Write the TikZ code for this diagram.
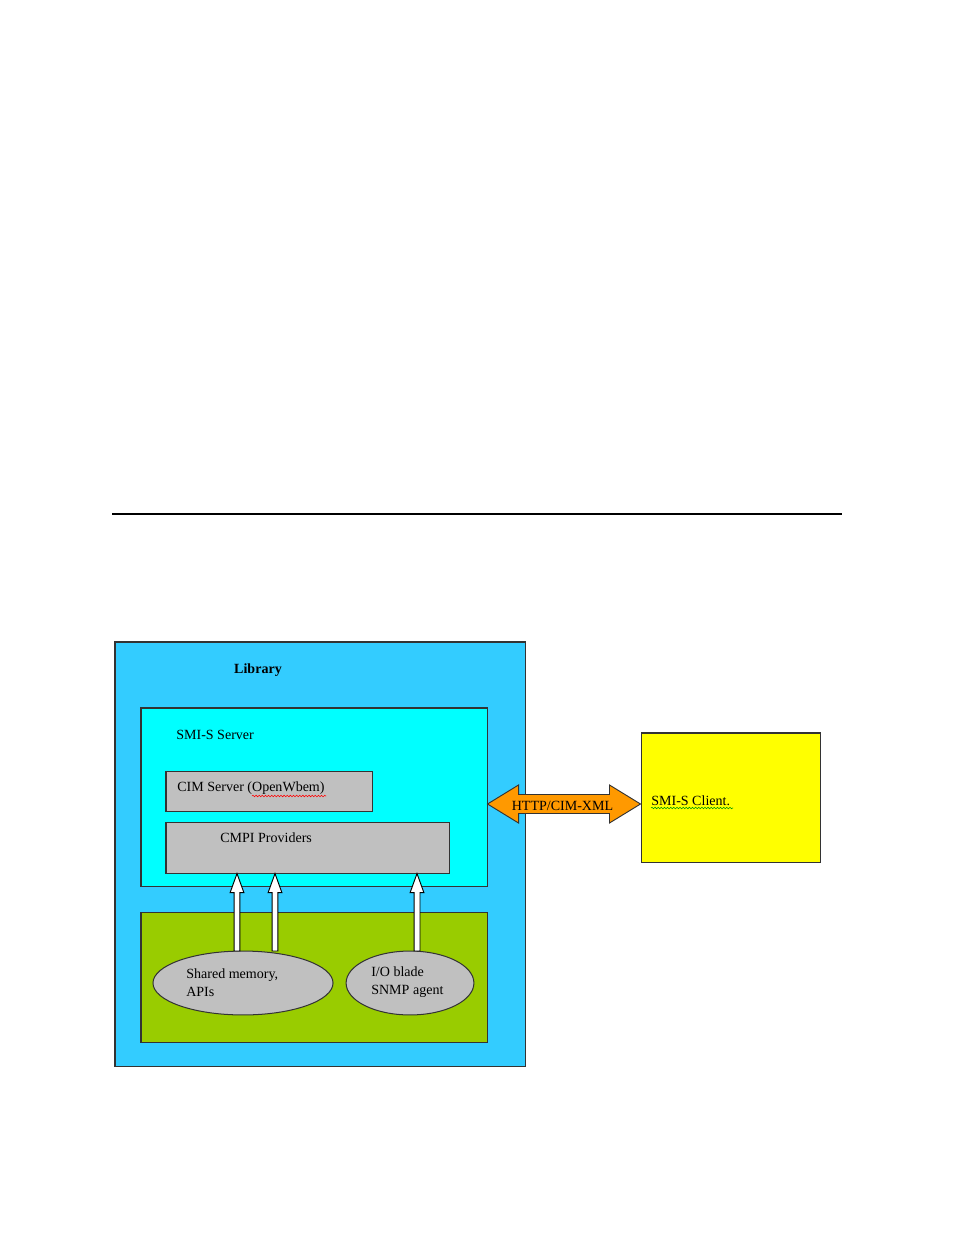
\documentclass[tikz,border=0pt]{standalone}
\usepackage{fontspec}
\setmainfont{Liberation Serif}
\usetikzlibrary{fit,calc,shapes.geometric,decorations.pathmorphing}
\definecolor{libblue}{HTML}{33CCFF}
\definecolor{srvcyan}{HTML}{00FFFF}
\definecolor{boxgray}{HTML}{C0C0C0}
\definecolor{agreen}{HTML}{99CC00}
\definecolor{aorange}{HTML}{FF9900}
\definecolor{cyellow}{HTML}{FFFF00}
\definecolor{edgecol}{HTML}{333333}
\newcommand\blockuparrow[2]{%
  \draw[blockarrow] let \p1=(#1), \p2=(#2) in
    (\x1-1.9pt,\y1) -- (\x1-1.9pt,\y2-12.2pt) -- (\x1-4.4pt,\y2-12.2pt) -- (\x1,\y2)
    -- (\x1+4.4pt,\y2-12.2pt) -- (\x1+1.9pt,\y2-12.2pt) -- (\x1+1.9pt,\y1) -- cycle;}
\begin{document}
\begin{tikzpicture}[x=0.64151pt, y=-0.64151pt,
  frame/.style={draw=edgecol, line width=0.65pt, inner sep=0pt},
  lbl/.style={font=\fontsize{9}{11.5}\selectfont, inner sep=0pt, anchor=west, align=left},
  oval/.style={ellipse, draw=edgecol, line width=0.65pt, fill=boxgray, inner sep=0pt},
  blockarrow/.style={draw=black, line width=0.6pt, fill=white, line join=miter},
  squiggle/.style={line width=0.35pt, decorate, decoration={snake, amplitude=0.5pt, segment length=2pt}}]
\useasboundingbox (0,0) rectangle (954,1235);

% horizontal rule
\coordinate (rl) at (112,514);
\coordinate (rr) at (842,514);
\draw[line width=0.7pt] (rl) -- (rr);

% boxes
\node[frame, fit={(115,642) (525,1066)}, fill=libblue] (lib) {};
\node[frame, fit={(141,708) (487,886)}, fill=srvcyan] (srv) {};
\node[frame, fit={(166,771) (372,811)}, fill=boxgray] (cim) {};
\node[frame, fit={(166,822) (449,873)}, fill=boxgray] (cmpi) {};
\node[frame, fit={(141,912) (487,1042)}, fill=agreen] (grn) {};
\node[frame, fit={(641,733) (820,862)}, fill=cyellow] (cli) {};

% ellipses
\node[oval, minimum width=115.5pt, minimum height=41pt] (e1) at (243,983) {};
\node[oval, minimum width=82pt, minimum height=41pt] (e2) at (410,983) {};

% labels
\node[lbl, anchor=center, font=\fontsize{9}{11.5}\selectfont\bfseries] (liblbl) at (258,670.5) {Library};
\node[lbl] (srvlbl) at (176,734.5) {SMI-S Server};
\node[lbl] (cimlbl) at (177,788.5) {CIM Server (OpenWbem)};
\node[lbl] (cmpilbl) at (220,837.5) {CMPI Providers};
\node[lbl] (e1lbl) at (186,982.5) {Shared memory,\\APIs};
\node[lbl] (e2lbl) at (371,982.5) {I/O blade\\SNMP agent};
\node[lbl] (clilbl) at (651,800.5) {SMI-S Client.};

% spell-check squiggles
\draw[squiggle, red] (252,796) -- (326,796);
\draw[squiggle, green!60!black] (651,808) -- (733,808);

% white block arrows from ellipses to CMPI Providers
\coordinate (s1) at (237,951);
\coordinate (s2) at (275,951);
\coordinate (s3) at (417,951);
\blockuparrow{s1}{cmpi.south -| s1}
\blockuparrow{s2}{cmpi.south -| s2}
\blockuparrow{s3}{cmpi.south -| s3}

% double arrow HTTP/CIM-XML
\coordinate (hl) at (srv.east |- 0,804);
\coordinate (hr) at (cli.west |- 0,804);
\draw[draw=edgecol, line width=0.6pt, fill=aorange, line join=miter]
  let \p1=(hl), \p2=(hr) in
  (\x1,\y1) -- (\x1+19.9pt,\y1+12.2pt) -- (\x1+19.9pt,\y1+6.1pt) -- (\x2-19.9pt,\y1+6.1pt)
  -- (\x2-19.9pt,\y1+12.2pt) -- (\x2,\y1) -- (\x2-19.9pt,\y1-12.2pt) -- (\x2-19.9pt,\y1-6.1pt)
  -- (\x1+19.9pt,\y1-6.1pt) -- (\x1+19.9pt,\y1-12.2pt) -- cycle;
\node[lbl, anchor=center] (httplbl) at ($(hl)!0.49!(hr)+(0,1.5)$) {HTTP/CIM-XML};
\end{tikzpicture}
\end{document}
